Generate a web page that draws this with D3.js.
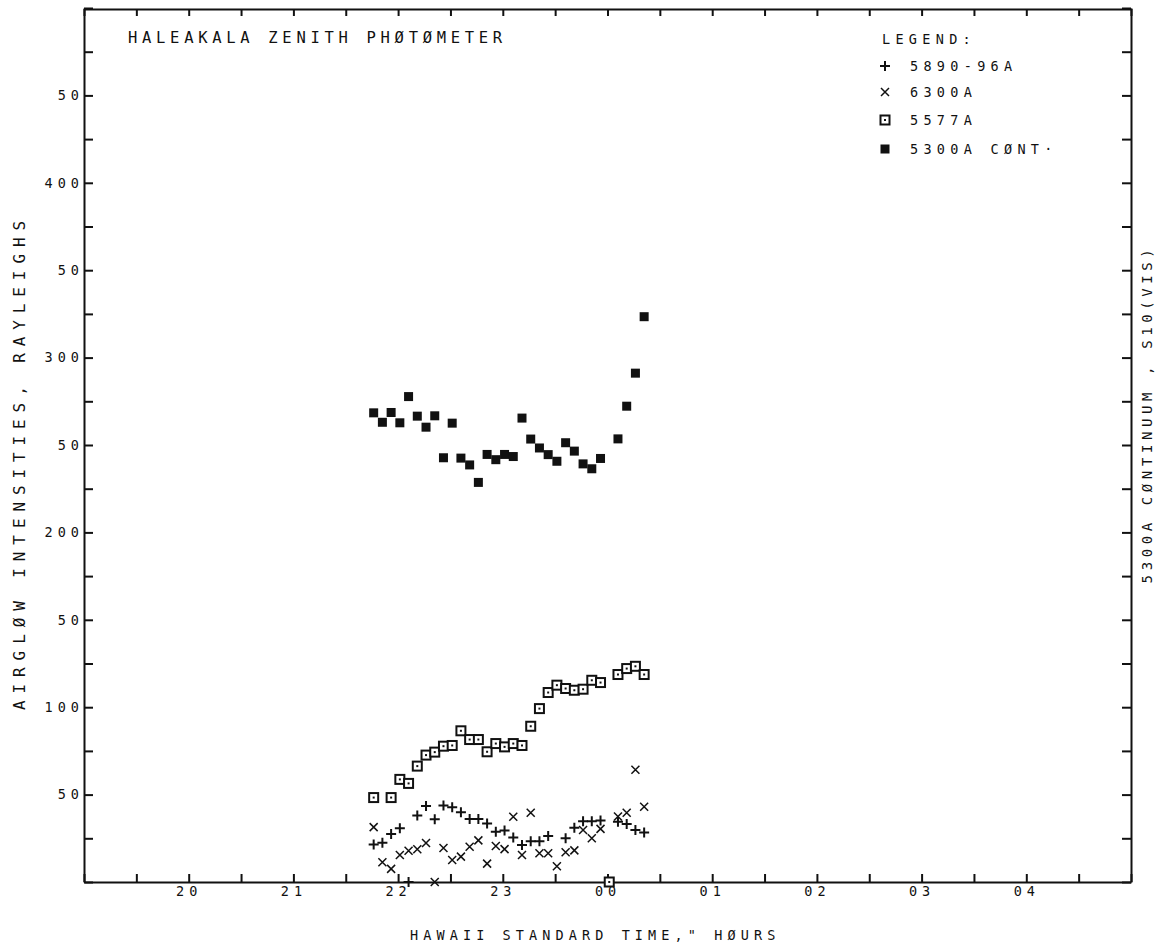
<!DOCTYPE html>
<html><head><meta charset="utf-8">
<script src="https://cdn.jsdelivr.net/npm/d3@7"></script>
<style>
body{margin:0;background:#fff}
text{font-family:"DejaVu Sans Mono",monospace;fill:#111}
</style>
</head><body>
<svg id="c" width="1163" height="945"></svg>
<script>
// Observation times (Hawaii Standard Time), one every 5 minutes
const times = ["21:46","21:51","21:56","22:01","22:06","22:11","22:16","22:21","22:26","22:31","22:36","22:41","22:46","22:51","22:56","23:01","23:06","23:11","23:16","23:21","23:26","23:31","23:36","23:41","23:46","23:51","23:56","00:01","00:06","00:11","00:16","00:21"];
// Series values (Rayleighs / S10(VIS)); null = no point plotted
const na5890 = [21.4,22.5,27.5,30.7,0,38.1,43.5,35.9,43.8,42.7,39.9,36.1,36.1,33.5,28.7,29.5,25.5,21.1,23.3,23.3,26.3,null,25.0,31.1,34.7,34.7,35.2,null,34.5,33.2,29.7,28.3];
const o6300 = [31.4,11.3,7.5,15.4,17.9,18.7,22.3,0,19.4,12.6,14.5,20.2,23.8,10.5,20.6,18.8,37.3,15.4,39.6,16.5,16.5,9.0,17.0,18.1,29.7,25.0,30.4,null,37.5,39.6,64.2,43.0];
const o5577 = [48.3,null,48.3,58.7,56.4,66.3,72.6,74.3,77.7,78.1,86.5,81.5,81.5,74.5,79.2,77.3,79.2,78.1,89.1,99.2,108.4,112.6,110.7,109.7,110.3,115.4,114.1,0,118.7,122.1,123.4,118.7];
const c5300 = [268.4,263.0,268.6,262.7,277.7,266.5,260.2,266.7,242.7,262.5,242.5,238.6,228.6,244.6,241.6,244.6,243.4,265.4,253.4,248.3,244.5,240.7,251.3,246.5,239.2,236.4,242.3,null,253.5,272.2,291.1,323.4];

const seriesNames = ["5890-96A","6300A","5577A","5300A CØNT·"];
const seriesKeys = ["plus","cross","dotsquare","filled"];

const yTickValues = [50,100,150,200,250,300,350,400,450];
const yTickLabels = ["50","100","50","200","50","300","50","400","50"];
const xTickValues = [20,21,22,23,24,25,26,27,28];
const xTickLabels = ["20","21","22","23","00","01","02","03","04"];

const title = "HALEAKALA ZENITH PHØTØMETER";
const xTitle = "HAWAII STANDARD TIME,\" HØURS";
const yTitle = "AIRGLØW INTENSITIES, RAYLEIGHS";
const y2Title = "5300A CØNTINUUM , S10(VIS)";

const svg = d3.select("#c");
const L = 84, R = 1131, T = 8, B = 882;
const x = d3.scaleLinear().domain([19,29]).range([L,R]);
const y = d3.scaleLinear().domain([0,500]).range([B,T]);

const toHour = s => { const [h,m] = s.split(":").map(Number); return (h < 12 ? h + 24 : h) + m/60; };
const hours = times.map(toHour);

// axes
const minorY = d3.range(0, 501, 25);
const minorX = d3.range(19, 29.01, 0.5);
const lab = (vals, labs) => d => { const i = vals.indexOf(d); return i >= 0 ? labs[i] : ""; };

const gl = svg.append("g").attr("transform",`translate(${L},0)`)
  .call(d3.axisLeft(y).tickValues(minorY).tickSizeInner(-9).tickSizeOuter(0).tickPadding(0)
  .tickFormat(lab(yTickValues,yTickLabels)));
const gr = svg.append("g").attr("transform",`translate(${R},0)`)
  .call(d3.axisRight(y).tickValues(minorY).tickSizeInner(-9).tickSizeOuter(0).tickFormat(""));
const gb = svg.append("g").attr("transform",`translate(0,${B})`)
  .call(d3.axisBottom(x).tickValues(minorX).tickSizeInner(-8).tickSizeOuter(0).tickPadding(4)
  .tickFormat(lab(xTickValues,xTickLabels)));
const gt = svg.append("g").attr("transform",`translate(0,${T+1})`)
  .call(d3.axisTop(x).tickValues(minorX).tickSizeInner(-7).tickSizeOuter(0).tickFormat(""));
svg.selectAll(".domain, .tick line").attr("stroke","#111").attr("stroke-width",2);
svg.selectAll(".tick text").attr("font-family","DejaVu Sans Mono").attr("font-size",13.5)
  .attr("letter-spacing","5px").attr("fill","#111");

// titles
svg.append("text").attr("x",128).attr("y",43).attr("font-size",15.5).attr("letter-spacing","4.7px").text(title);
svg.append("text").attr("x",410).attr("y",940).attr("font-size",13.5).attr("letter-spacing","5.1px").text(xTitle);
svg.append("text").attr("transform","translate(25,462) rotate(-90)").attr("text-anchor","middle")
  .attr("font-size",16).attr("letter-spacing","6.9px").text(yTitle);
svg.append("text").attr("transform","translate(1152,414) rotate(-90)").attr("text-anchor","middle")
  .attr("font-size",14).attr("letter-spacing","4.6px").text(y2Title);

// markers
function drawMarker(g, kind){
  if(kind==="plus"){
    g.append("path").attr("d","M-5,0H5M0,-5V5").attr("stroke","#111").attr("stroke-width",2).attr("fill","none");
  } else if(kind==="cross"){
    g.append("path").attr("d","M-4,-4L4,4M-4,4L4,-4").attr("stroke","#111").attr("stroke-width",1.5).attr("fill","none");
  } else if(kind==="dotsquare"){
    g.append("rect").attr("x",-4.5).attr("y",-4.5).attr("width",9).attr("height",9).attr("fill","#fff").attr("stroke","#111").attr("stroke-width",2);
    g.append("rect").attr("x",-1).attr("y",-1).attr("width",2).attr("height",2).attr("fill","#111");
  } else {
    g.append("rect").attr("x",-4.5).attr("y",-4.5).attr("width",9).attr("height",9).attr("fill","#111");
  }
}
const seriesVals = [na5890,o6300,o5577,c5300];
seriesVals.forEach((vals,si)=>{
  const pts = hours.map((h,i)=>({h, v: vals[i]})).filter(d=>d.v!==null);
  svg.append("g").selectAll("g").data(pts).join("g")
    .attr("transform",d=>`translate(${x(d.h)},${y(d.v)})`)
    .each(function(){ drawMarker(d3.select(this), seriesKeys[si]); });
});

// legend
const leg = svg.append("g");
leg.append("text").attr("x",882).attr("y",44).attr("font-size",13.5).attr("letter-spacing","5.3px").text("LEGEND:");
seriesNames.forEach((n,i)=>{
  const yy = [66,92,120,149][i];
  const g = leg.append("g").attr("transform",`translate(885,${yy})`);
  drawMarker(g, seriesKeys[i]);
  leg.append("text").attr("x",910).attr("y",yy+5).attr("font-size",13.5).attr("letter-spacing","5.3px").text(n);
});
</script>
</body></html>
